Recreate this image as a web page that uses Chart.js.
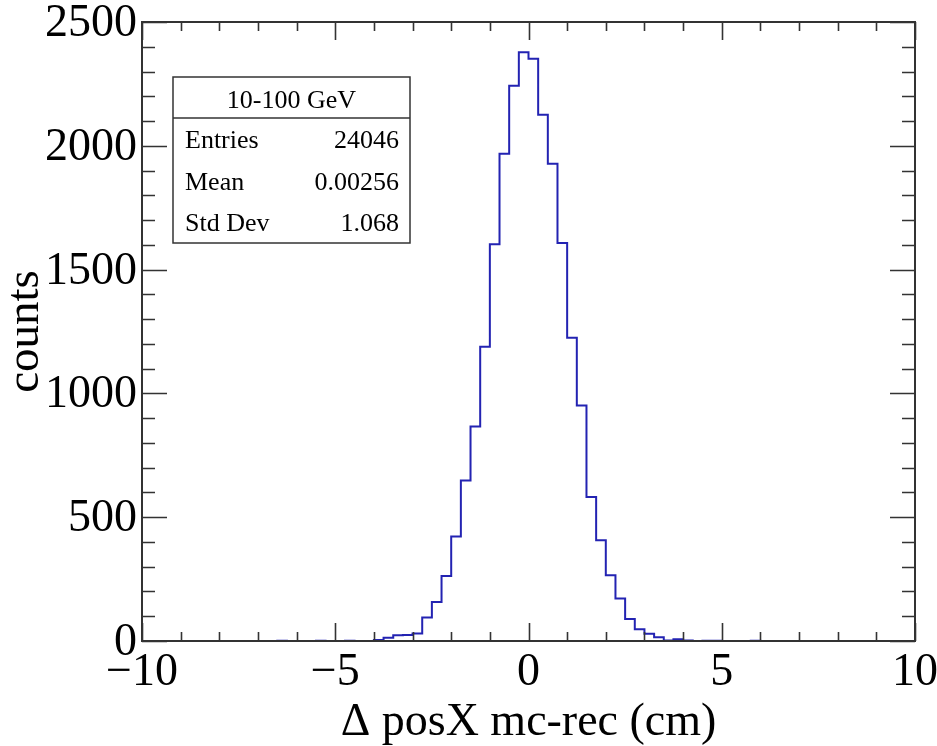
<!DOCTYPE html>
<html>
<head>
<meta charset="utf-8">
<title>posX resolution</title>
<script src="https://cdn.jsdelivr.net/npm/chart.js@4.4.1/dist/chart.umd.min.js"></script>
<style>
  body { margin: 0; background: #fff; }
  #wrap { width: 937px; height: 746px; }
</style>
</head>
<body>
<div id="wrap"><canvas id="posXChart" width="937" height="746"></canvas></div>
<script>
// histogram binning: 80 bins of 0.25 cm between -10 and 10
const xMin = -10;
const xMax = 10;
const binWidth = 0.25;

// bin contents, left to right
const binCounts = [
  0, 0, 0, 0, 0, 0, 0, 0, 0, 0,          // -10.0 .. -7.75
  0, 0, 0, 0, 1, 0, 0, 0, 1, 0,          // -7.5 .. -5.25
  0, 1, 0, 0, 4, 13, 23, 24, 30, 95,     // -5.0 .. -2.75
  158, 263, 422, 648, 866, 1188, 1602, 1968, 2243, 2378,  // -2.5 .. -0.25
  2352, 2125, 1928, 1607, 1225, 951, 582, 407, 266, 172,  // 0 .. 2.25
  89, 47, 29, 15, 2, 7, 2, 0, 1, 1,      // 2.5 .. 4.75
  0, 0, 0, 1, 0, 0, 0, 0, 0, 0,          // 5.0 .. 7.25
  0, 0, 0, 0, 0, 0, 0, 0, 0, 0           // 7.5 .. 9.75
];

const yTicks = [0, 500, 1000, 1500, 2000, 2500];
const xTicks = [-10, -5, 0, 5, 10];

const xTitle = 'Δ posX mc-rec (cm)';
const yTitle = 'counts';

const statsTitle = '10-100 GeV';
const statsLabels = ['Entries', 'Mean', 'Std Dev'];
const statsValues = ['24046', '0.00256', '1.068'];

const serif = "'Liberation Serif', 'DejaVu Serif', serif";
const frameColor = '#333333';

// points at the left edge of each bin, closing point at the right edge
let histPoints = binCounts.map((c, i) => ({x: xMin + i * binWidth, y: c}));
histPoints.push({x: xMax, y: 0});

const minus = v => (v < 0 ? '\u2212' + Math.abs(v) : String(v));

// frame with inward ticks on all four sides, ROOT style
const frameTicks = {
  id: 'frameTicks',
  afterDatasetsDraw(chart) {
    const {ctx, chartArea: a, scales: {x, y}} = chart;
    ctx.save();
    ctx.strokeStyle = frameColor;
    ctx.lineWidth = 2;
    ctx.strokeRect(a.left, a.top, a.right - a.left, a.bottom - a.top);
    ctx.beginPath();
    for (let v = 0; v <= 2500; v += 100) {
      const py = Math.round(y.getPixelForValue(v)) + 0.5;
      const len = v % 500 === 0 ? 25 : 13;
      ctx.moveTo(a.left, py); ctx.lineTo(a.left + len, py);
      ctx.moveTo(a.right, py); ctx.lineTo(a.right - len, py);
    }
    for (let v = xMin; v <= xMax; v += 1) {
      const px = Math.round(x.getPixelForValue(v)) + 0.5;
      const len = v % 5 === 0 ? 18 : 9;
      ctx.moveTo(px, a.bottom); ctx.lineTo(px, a.bottom - len);
      ctx.moveTo(px, a.top); ctx.lineTo(px, a.top + len);
    }
    ctx.lineWidth = 1.6;
    ctx.stroke();
    ctx.restore();
  }
};

// statistics box in the upper left
const statsBox = {
  id: 'statsBox',
  afterDraw(chart) {
    const ctx = chart.ctx;
    const bx = 173, by = 77, bw = 237, bh = 166, head = 41;
    ctx.save();
    ctx.fillStyle = '#fff';
    ctx.fillRect(bx, by, bw, bh);
    ctx.strokeStyle = frameColor;
    ctx.lineWidth = 1.5;
    ctx.strokeRect(bx, by, bw, bh);
    ctx.beginPath();
    ctx.moveTo(bx, by + head); ctx.lineTo(bx + bw, by + head);
    ctx.stroke();

    ctx.fillStyle = '#000';
    ctx.font = '26px ' + serif;
    ctx.textBaseline = 'alphabetic';
    ctx.textAlign = 'center';
    ctx.fillText(statsTitle, bx + bw / 2, by + 31);
    statsLabels.forEach((lab, i) => {
      const base = by + 71 + i * 41.6;
      ctx.textAlign = 'left';
      ctx.fillText(lab, bx + 12, base);
      ctx.textAlign = 'right';
      ctx.fillText(statsValues[i], bx + bw - 11, base);
    });
    ctx.restore();
  }
};

new Chart(document.getElementById('posXChart'), {
  type: 'line',
  data: {
    datasets: [{
      label: 'posX',
      data: histPoints,
      stepped: true,
      borderColor: '#2323b2',
      borderWidth: 2,
      pointRadius: 0,
      fill: false
    }]
  },
  options: {
    responsive: false,
    devicePixelRatio: 1,
    animation: false,
    layout: { padding: { left: 0, right: 22, top: 22, bottom: 0 } },
    plugins: {
      legend: { display: false },
      tooltip: { enabled: false }
    },
    scales: {
      x: {
        type: 'linear',
        min: xMin,
        max: xMax,
        grid: { display: false, drawTicks: false, tickLength: 0 },
        border: { display: false },
        afterBuildTicks: s => { s.ticks = xTicks.map(v => ({value: v})); },
        afterFit: s => { s.height = 105; s.paddingLeft = 0; s.paddingRight = 0; },
        ticks: {
          color: '#000',
          padding: 4,
          maxRotation: 0,
          autoSkip: false,
          font: { family: serif, size: 46, lineHeight: 1.2 },
          callback: v => minus(v)
        },
        title: {
          display: true,
          text: xTitle,
          color: '#000',
          font: { family: serif, size: 46, lineHeight: 1 },
          padding: { top: 0, bottom: 0 }
        }
      },
      y: {
        min: 0,
        max: 2500,
        grid: { display: false, drawTicks: false, tickLength: 0 },
        border: { display: false },
        afterBuildTicks: s => { s.ticks = yTicks.map(v => ({value: v})); },
        afterFit: s => { s.width = 142; s.paddingTop = 0; s.paddingBottom = 0; },
        ticks: {
          color: '#000',
          padding: 5,
          labelOffset: 2,
          font: { family: serif, size: 46 },
          callback: v => String(v)
        },
        title: {
          display: true,
          text: yTitle,
          color: '#000',
          font: { family: serif, size: 47, lineHeight: 1 },
          padding: { top: 2, bottom: 0 }
        }
      }
    }
  },
  plugins: [frameTicks, statsBox]
});
</script>
</body>
</html>
